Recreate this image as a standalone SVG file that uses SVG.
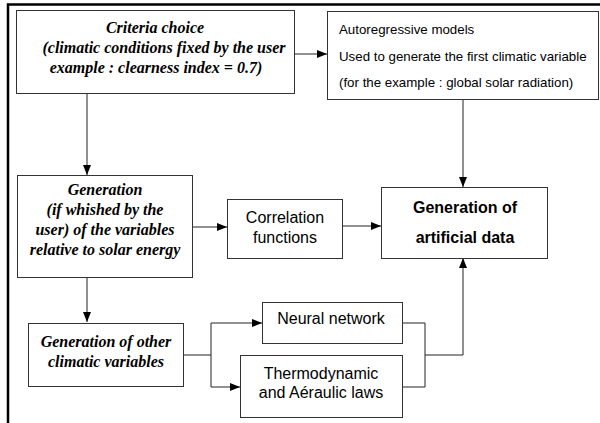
<svg xmlns="http://www.w3.org/2000/svg" width="600" height="423" viewBox="0 0 600 423">
<style>
.box{fill:#fff;stroke:#333;stroke-width:1}
.ti{font-family:"Liberation Serif","Times New Roman",serif;font-weight:bold;font-style:italic;font-size:16px;fill:#000;text-anchor:middle}
.ar{font-family:"Liberation Sans",Arial,sans-serif;font-size:16px;fill:#000;text-anchor:middle}
.arb{font-family:"Liberation Sans",Arial,sans-serif;font-size:16px;font-weight:bold;fill:#000;text-anchor:middle}
.sm{font-family:"Liberation Sans",Arial,sans-serif;font-size:13.3px;fill:#000}
.ln{fill:none;stroke:#222;stroke-width:1}
</style>
<defs>
<marker id="ah" markerWidth="10" markerHeight="8" refX="10" refY="4" orient="auto" markerUnits="userSpaceOnUse">
<path d="M0,0 L10,4 L0,8 Z" fill="#000"/>
</marker>
</defs>
<rect width="600" height="423" fill="#fff"/>
<path d="M8,423 V4.5 H600" fill="none" stroke="#000" stroke-width="2.5"/>
<g id="connectors">
<path class="ln" d="M294,54 H327" marker-end="url(#ah)"/>
<path class="ln" d="M87,93 V175" marker-end="url(#ah)"/>
<path class="ln" d="M463,99 V187" marker-end="url(#ah)"/>
<path class="ln" d="M193,227 H227" marker-end="url(#ah)"/>
<path class="ln" d="M342,226 H381" marker-end="url(#ah)"/>
<path class="ln" d="M87,277 V322" marker-end="url(#ah)"/>
<path class="ln" d="M184,355 H211"/>
<path class="ln" d="M211,323 V387"/>
<path class="ln" d="M211,323 H262" marker-end="url(#ah)"/>
<path class="ln" d="M211,387 H240" marker-end="url(#ah)"/>
<path class="ln" d="M403,323 H425 V387 H403"/>
<path class="ln" d="M425,355 H463 V258" marker-end="url(#ah)"/>
</g>
<g id="criteria">
<rect class="box" x="16.5" y="10.5" width="278" height="83"/>
<text class="ti" x="155" y="33">Criteria choice</text>
<text class="ti" x="164" y="53">(climatic conditions fixed by the user</text>
<text class="ti" x="156" y="73">example : clearness index = 0.7)</text>
</g>
<g id="autoregressive">
<rect class="box" x="327.5" y="11.5" width="271" height="88"/>
<text class="sm" x="339" y="34">Autoregressive models</text>
<text class="sm" x="339" y="61">Used to generate the first climatic variable</text>
<text class="sm" x="339" y="87">(for the example : global solar radiation)</text>
</g>
<g id="generation">
<rect class="box" x="17.5" y="175.5" width="175" height="102"/>
<text class="ti" x="105" y="195">Generation</text>
<text class="ti" x="105" y="215">(if whished by the</text>
<text class="ti" x="105" y="235">user) of the variables</text>
<text class="ti" x="105" y="255">relative to solar energy</text>
</g>
<g id="correlation">
<rect class="box" x="227.5" y="199.5" width="115" height="59"/>
<text class="ar" x="285" y="223">Correlation</text>
<text class="ar" x="285" y="243">functions</text>
</g>
<g id="artificial">
<rect class="box" x="381.5" y="187.5" width="166" height="71"/>
<text class="arb" x="465" y="213">Generation of</text>
<text class="arb" x="465" y="243">artificial data</text>
</g>
<g id="other">
<rect class="box" x="28.5" y="323.5" width="155" height="63"/>
<text class="ti" x="106" y="347">Generation of other</text>
<text class="ti" x="106" y="367">climatic variables</text>
</g>
<g id="neural">
<rect class="box" x="262.5" y="302.5" width="140" height="41"/>
<text class="ar" x="331" y="324">Neural network</text>
</g>
<g id="thermo">
<rect class="box" x="240.5" y="355.5" width="162" height="62"/>
<text class="ar" x="321" y="379">Thermodynamic</text>
<text class="ar" x="321" y="398">and Aéraulic laws</text>
</g>
</svg>
